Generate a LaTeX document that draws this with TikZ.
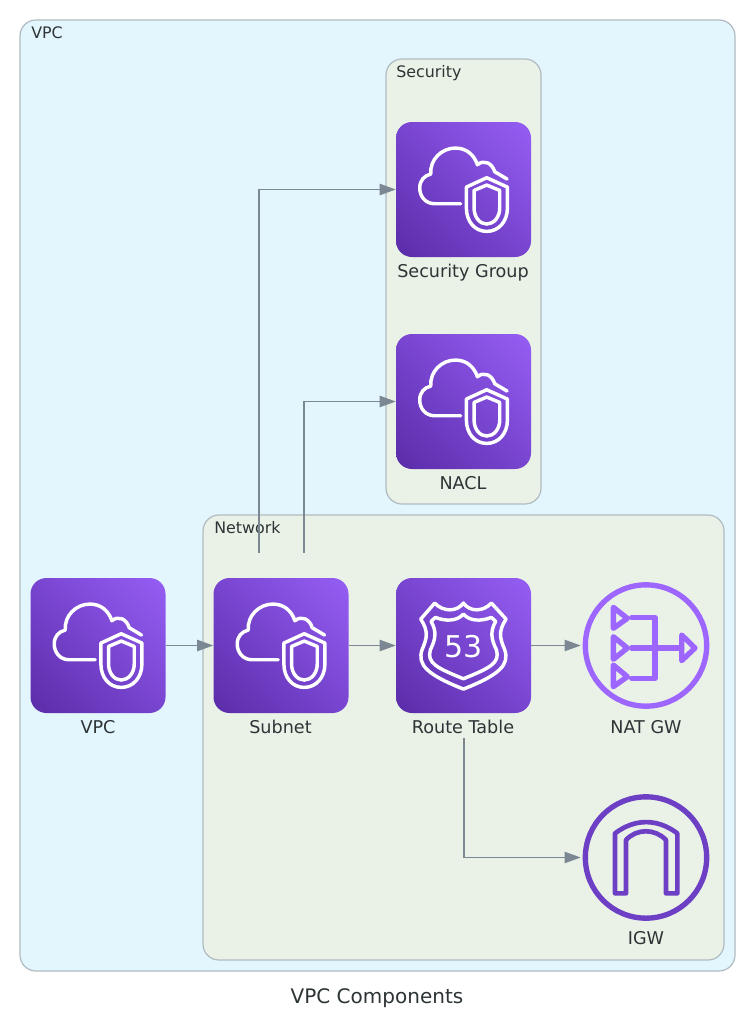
\documentclass[tikz,border=0pt]{standalone}
\usepackage{fontspec}
\setmainfont{DejaVu Sans}
\usetikzlibrary{arrows.meta,shadings}
\definecolor{vpcfill}{HTML}{E3F5FD}
\definecolor{grpfill}{HTML}{EAF2E7}
\definecolor{grpline}{HTML}{B0BBC2}
\definecolor{edgecol}{HTML}{7B8894}
\definecolor{txt}{HTML}{2D3436}
\definecolor{iconlo}{HTML}{5A2CA8}
\definecolor{iconhi}{HTML}{965EF4}
\definecolor{iconmid}{HTML}{7845D0}
\definecolor{natcol}{HTML}{9D66FF}
\definecolor{igwcol}{HTML}{6C3FC4}
\tikzset{
  x=0.75pt,y=-0.75pt,
  cluster/.style={draw=grpline,line width=0.9pt,rounded corners=12pt},
  clusterlabel/.style={anchor=base west,inner sep=0pt,text=txt,font=\fontsize{11.9}{14}\selectfont},
  iconbox/.style={minimum width=101.25pt,minimum height=101.25pt,inner sep=0pt,rounded corners=12pt,
    lower left=iconlo,upper right=iconhi,upper left=iconmid,lower right=iconmid},
  circlebox/.style={circle,minimum size=91pt,inner sep=0pt,line width=4pt},
  iconlabel/.style={anchor=base,inner sep=0pt,text=txt,font=\fontsize{13.2}{16}\selectfont},
  flow/.style={draw=edgecol,line width=0.8pt,-{Triangle[length=12pt,width=8.5pt]},fill=none},
  glyph/.style={draw=white,line width=2.6pt,line join=round,line cap=round},
  cloudglyph/.pic={
    \begin{scope}[x=0.25pt,y=-0.25pt,shift={(-33,-36)}]
      \draw[glyph] (228,282) -- (150,282) .. controls (122,282) and (105,260) .. (105,235)
        .. controls (105,212) and (118,198) .. (138,193)
        .. controls (135,150) and (170,115) .. (212,115)
        .. controls (245,115) and (268,135) .. (278,165)
        .. controls (298,148) and (322,160) .. (330,186) -- (367,208);
      \draw[glyph] (306,204) -- (245,232) -- (245,295)
        .. controls (245,335) and (270,365) .. (306,365)
        .. controls (342,365) and (368,335) .. (368,295) -- (368,232) -- cycle;
      \draw[glyph] (306,226) -- (268,242) -- (268,295)
        .. controls (268,322) and (285,343) .. (306,343)
        .. controls (327,343) and (345,322) .. (345,295) -- (345,242) -- cycle;
    \end{scope}
  },
  routeglyph/.pic={
    \begin{scope}[x=0.25pt,y=-0.25pt,shift={(-18,-24)}]
      \draw[glyph] (221,100) .. controls (240,127) and (280,127) .. (305,100) -- (349,148)
        .. controls (325,185) and (330,205) .. (345,240)
        .. controls (360,285) and (330,315) .. (221,358)
        .. controls (112,315) and (82,285) .. (97,240)
        .. controls (112,205) and (117,185) .. (93,148) -- (135,100)
        .. controls (160,127) and (202,127) .. (221,100) -- cycle;
      \draw[glyph] (221,133) .. controls (240,155) and (275,155) .. (305,143) -- (318,155)
        .. controls (300,185) and (305,210) .. (320,240)
        .. controls (332,280) and (300,295) .. (221,327)
        .. controls (142,295) and (110,280) .. (122,240)
        .. controls (137,210) and (142,185) .. (124,155) -- (137,143)
        .. controls (167,155) and (202,155) .. (221,133) -- cycle;
    \end{scope}
  },
}
\begin{document}
\begin{tikzpicture}
\useasboundingbox (0,0) rectangle (755,1025);
\fill[white] (0,0) rectangle (755,1025);

% clusters
\path[cluster,fill=vpcfill] (20,20) rectangle (735,971);
\path[cluster,fill=grpfill] (386,59) rectangle (541,504);
\path[cluster,fill=grpfill] (203,515) rectangle (724,960);
\node[clusterlabel] (lblvpcgroup) at (31,38.5) {VPC};
\node[clusterlabel] (lblsecurity) at (396,77.5) {Security};
\node[clusterlabel] (lblnetwork) at (214,533.5) {Network};

% icon tiles
\node[iconbox,shade] (sg) at (463.5,189.5) {};
\node[iconbox,shade] (nacl) at (463.5,401.5) {};
\node[iconbox,shade] (vpc) at (98,645.5) {};
\node[iconbox,shade] (subnet) at (281,645.5) {};
\node[iconbox,shade] (route) at (463.5,645.5) {};
\pic at (sg.north west) {cloudglyph};
\pic at (nacl.north west) {cloudglyph};
\pic at (vpc.north west) {cloudglyph};
\pic at (subnet.north west) {cloudglyph};
\pic at (route.north west) {routeglyph};
\node[text=white,inner sep=0pt,font=\fontsize{22.5}{24}\selectfont] (fiftythree) at (464,646.5) {53};

% NAT gateway
\node[circlebox,draw=natcol] (nat) at (646,645.5) {};
\begin{scope}[x=0.25pt,y=-0.25pt,shift={(1170,1710)},draw=natcol,line width=4pt,line join=round,line cap=round]
  \draw (670,112) -- (712,145) -- (670,175) -- cycle;
  \draw (670,200) -- (712,234) -- (670,268) -- cycle;
  \draw (670,285) -- (712,320) -- (670,350) -- cycle;
  \draw (725,143) -- (795,143) -- (795,325) -- (725,325);
  \draw (725,234) -- (875,234);
  \draw (875,195) -- (915,234) -- (875,272) -- cycle;
\end{scope}

% internet gateway
\node[circlebox,draw=igwcol] (igw) at (646,857.5) {};
\begin{scope}[x=0.25pt,y=-0.25pt,shift={(1710,2355)},draw=igwcol,line width=3.5pt,line join=round]
  \draw (135,325) -- (135,145) .. controls (195,100) and (262,100) .. (322,145)
    -- (322,325) -- (288,325) -- (288,165) .. controls (255,130) and (200,130) .. (168,165)
    -- (168,325) -- cycle;
\end{scope}

% labels
\node[iconlabel] (lblsg) at (463,277) {Security Group};
\node[iconlabel] (lblnacl) at (463,489) {NACL};
\node[iconlabel] (lblvpc) at (98,733) {VPC};
\node[iconlabel] (lblsubnet) at (280.5,733) {Subnet};
\node[iconlabel] (lblroute) at (463,733) {Route Table};
\node[iconlabel] (lblnat) at (646,733) {NAT GW};
\node[iconlabel] (lbligw) at (646,944) {IGW};
\node[anchor=base,inner sep=0pt,text=txt,font=\fontsize{15}{18}\selectfont] (title) at (377,1003) {VPC Components};

% connectors
\coordinate (subnetA) at (259,553);
\coordinate (subnetB) at (304,553);
\coordinate (routeout) at (464,738);
\draw[flow] (vpc.east) -- (subnet.west);
\draw[flow] (subnet.east) -- (route.west);
\draw[flow] (route.east) -- ([xshift=-1.5pt]nat.west);
\draw[flow] (subnetA) |- (sg.west);
\draw[flow] (subnetB) |- (nacl.west);
\draw[flow] (routeout) |- ([xshift=-1.5pt]igw.west);
\end{tikzpicture}
\end{document}
